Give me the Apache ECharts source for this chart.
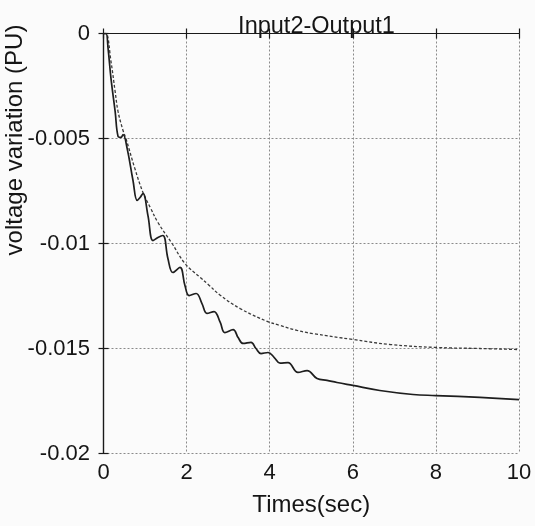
<!DOCTYPE html>
<html>
<head>
<meta charset="utf-8">
<script src="https://cdn.jsdelivr.net/npm/echarts@6/dist/echarts.min.js"></script>
<style>
html,body{margin:0;padding:0;background:#fbfbfb;}
#chart{width:535px;height:526px;}
</style>
</head>
<body>
<div id="chart"></div>
<script>
// ---- data ----
var titleText = 'Input2-Output1';
var xAxisName = 'Times(sec)';
var yAxisName = 'voltage variation (PU)';
var xTickLabels = ['0', '2', '4', '6', '8', '10'];
var yTickLabels = ['0', '-0.005', '-0.01', '-0.015', '-0.02'];

// solid (oscillating) response: time (s)
var solidT = [0, 0.06, 0.11, 0.18, 0.28, 0.35, 0.42, 0.47, 0.57, 0.71, 0.81, 0.88, 0.95, 1.07, 1.19, 1.31, 1.43, 1.55, 1.67, 1.84, 1.96, 2.06, 2.23, 2.37, 2.49, 2.66, 2.81, 2.92, 3.12, 3.24, 3.36, 3.55, 3.67, 3.79, 3.96, 4.11, 4.25, 4.44, 4.68, 4.9, 5.14, 5.38, 5.62, 6.0, 6.65, 7.45, 8.0, 9.06, 10];
// solid response: voltage variation (PU)
var solidV = [0, 0, -0.00071, -0.00214, -0.00371, -0.0049, -0.00495, -0.00481, -0.00548, -0.0070, -0.00795, -0.00781, -0.00762, -0.00867, -0.00986, -0.00971, -0.00962, -0.01071, -0.01138, -0.01114, -0.0120, -0.01248, -0.01238, -0.01286, -0.01333, -0.01324, -0.01376, -0.01424, -0.0141, -0.01448, -0.01476, -0.01471, -0.0150, -0.01524, -0.01519, -0.01543, -0.0157, -0.01567, -0.01614, -0.01605, -0.01643, -0.01652, -0.01662, -0.01676, -0.0170, -0.01719, -0.01724, -0.01733, -0.01743];

// dashed (smooth) response: time (s)
var dashT = [0, 0.06, 0.18, 0.28, 0.35, 0.47, 0.54, 0.75, 0.95, 1.13, 1.31, 1.65, 1.96, 2.33, 2.52, 2.8, 3.29, 3.94, 4.25, 4.66, 5.04, 6.0, 6.9, 8.0, 9.06, 10];
// dashed response: voltage variation (PU)
var dashV = [0, 0, -0.00133, -0.00276, -0.00371, -0.00462, -0.0050, -0.0064, -0.00757, -0.0083, -0.0090, -0.0100, -0.01095, -0.01162, -0.01195, -0.01245, -0.0131, -0.01371, -0.0139, -0.01414, -0.01429, -0.01457, -0.01481, -0.01495, -0.0150, -0.01505];

function pairs(t, v) { return t.map(function (x, i) { return [x, v[i]]; }); }

var chart = echarts.init(document.getElementById('chart'), null, {renderer: 'canvas'});
var lineCol = '#1a1a1a';
var tickFont = {fontFamily: 'Liberation Sans', fontSize: 22, color: '#151515'};
var grid = {type: [2, 2], color: '#8a8a8a', width: 1};

var option = {
  backgroundColor: '#fbfbfb',
  animation: false,
  title: {
    text: titleText, left: 311.5, top: 10, textAlign: 'center',
    textStyle: {fontFamily: 'Liberation Sans', fontSize: 23.5, fontWeight: 'normal', color: '#151515'}
  },
  grid: {left: 103.5, right: 16, top: 33.5, bottom: 72.5, show: false},
  xAxis: [{
    type: 'value', min: 0, max: 10, interval: 2,
    name: xAxisName, nameLocation: 'middle', nameGap: 40,
    nameTextStyle: {fontFamily: 'Liberation Sans', fontSize: 24, color: '#151515'},
    axisLine: {show: true, lineStyle: {color: lineCol, width: 1.2}},
    axisTick: {show: true, inside: true, length: 5, lineStyle: {color: lineCol, width: 1.2}},
    axisLabel: Object.assign({margin: 8, formatter: function (v) { return xTickLabels[Math.round(v / 2)]; }}, tickFont),
    splitLine: {show: true, lineStyle: grid}
  }, {
    type: 'value', min: 0, max: 10, interval: 2, position: 'top',
    axisLine: {show: true, lineStyle: {color: lineCol, width: 1.2}},
    axisTick: {show: true, inside: true, length: 5, lineStyle: {color: lineCol, width: 1.2}},
    axisLabel: {show: false}, splitLine: {show: false}
  }],
  yAxis: [{
    type: 'value', min: -0.02, max: 0, interval: 0.005,
    axisLine: {show: true, lineStyle: {color: lineCol, width: 1.2}},
    axisTick: {show: true, inside: true, length: 5, lineStyle: {color: lineCol, width: 1.2}},
    axisLabel: Object.assign({margin: 13.5, formatter: function (v) { return yTickLabels[Math.round(-v / 0.005)]; }}, tickFont),
    splitLine: {show: true, lineStyle: grid}
  }, {
    type: 'value', min: -0.02, max: 0, interval: 0.005, position: 'right',
    axisLine: {show: true, lineStyle: {color: lineCol, width: 1.2}},
    axisTick: {show: true, inside: true, length: 5, lineStyle: {color: lineCol, width: 1.2}},
    axisLabel: {show: false}, splitLine: {show: false}
  }],
  graphic: [{
    type: 'text', x: 15, y: 140, rotation: Math.PI / 2,
    style: {text: yAxisName, fontFamily: 'Liberation Sans', fontSize: 24, fill: '#151515', align: 'center', verticalAlign: 'middle'}
  }],
  series: [{
    type: 'line', data: pairs(dashT, dashV), showSymbol: false, smooth: 0.4,
    lineStyle: {color: '#3a3a3a', width: 1.3, type: [3, 2]}, z: 3
  }, {
    type: 'line', data: pairs(solidT, solidV), showSymbol: false, smooth: 0.4,
    lineStyle: {color: '#1e1e1e', width: 1.7, type: 'solid'}, z: 4
  }]
};
chart.setOption(option);
</script>
</body>
</html>
